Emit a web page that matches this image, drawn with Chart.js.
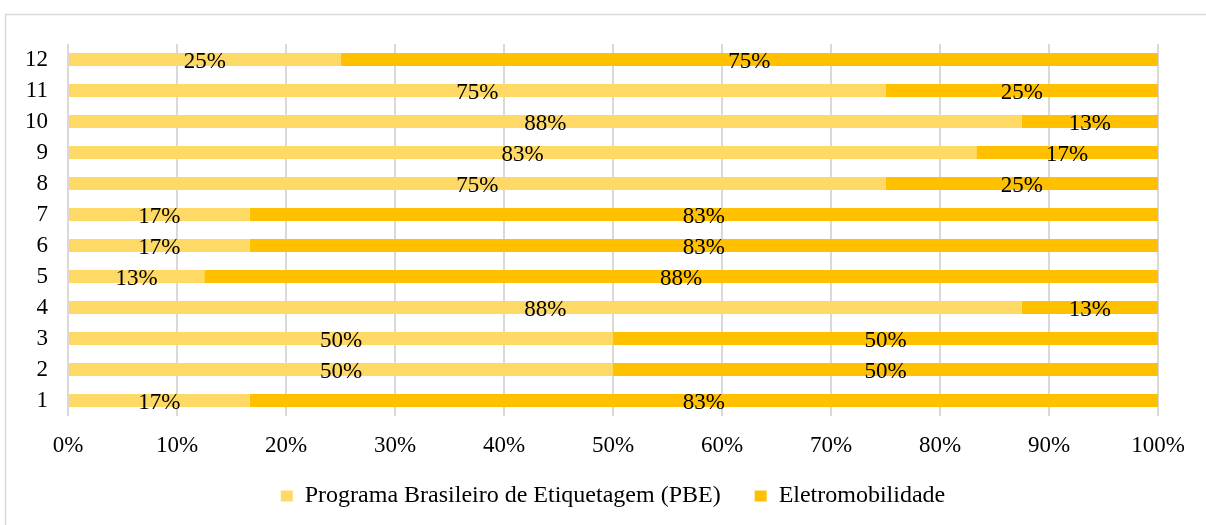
<!DOCTYPE html>
<html>
<head>
<meta charset="utf-8">
<script src="https://cdn.jsdelivr.net/npm/chart.js@4.4.1/dist/chart.umd.min.js"></script>
<style>
  html, body { margin: 0; padding: 0; background: #fff; }
  #box { width: 1206px; height: 525px; }
</style>
</head>
<body>
<div id="box"><canvas id="grafico" width="1206" height="525"></canvas></div>
<script>
// dados (percentagens por item)
const categorias = ['1', '2', '3', '4', '5', '6', '7', '8', '9', '10', '11', '12'];
const valoresPBE = [16.67, 50, 50, 87.5, 12.5, 16.67, 16.67, 75, 83.33, 87.5, 75, 25];
const valoresEletro = [83.33, 50, 50, 12.5, 87.5, 83.33, 83.33, 25, 16.67, 12.5, 25, 75];
const ticksX = [0, 10, 20, 30, 40, 50, 60, 70, 80, 90, 100];

const fonte = 'Liberation Serif, Times New Roman, serif';

// moldura cinza em volta do gráfico
const moldura = {
    id: 'moldura',
    beforeDraw(chart) {
        const ctx = chart.ctx;
        ctx.save();
        ctx.strokeStyle = '#d9d9d9';
        ctx.lineWidth = 1.5;
        ctx.strokeRect(5.5, 14.5, 1300, 600);
        ctx.restore();
    }
};

// sobe um pouco a legenda (o padding dela também dá o espaço entre itens)
const ajusteLegenda = {
    id: 'ajusteLegenda',
    afterLayout(chart) {
        chart.legend.top -= 7;
        chart.legend.bottom -= 7;
    }
};

// rótulos de percentagem no meio de cada segmento
const rotulos = {
    id: 'rotulos',
    afterDatasetsDraw(chart) {
        const ctx = chart.ctx;
        ctx.save();
        ctx.font = '23px ' + fonte;
        ctx.fillStyle = '#000';
        ctx.textAlign = 'center';
        ctx.textBaseline = 'middle';
        chart.data.datasets.forEach((ds, i) => {
            const meta = chart.getDatasetMeta(i);
            meta.data.forEach((bar, j) => {
                const p = bar.getProps(['x', 'y', 'base'], true);
                ctx.fillText(Math.round(ds.data[j]) + '%', (p.x + p.base) / 2, p.y + 2);
            });
        });
        ctx.restore();
    }
};

new Chart(document.getElementById('grafico'), {
    type: 'bar',
    data: {
        labels: categorias,
        datasets: [{
            label: 'Programa Brasileiro de Etiquetagem (PBE)',
            data: valoresPBE,
            backgroundColor: '#ffd966',
            barPercentage: 0.42,
            categoryPercentage: 1
        }, {
            label: 'Eletromobilidade',
            data: valoresEletro,
            backgroundColor: '#ffc000',
            barPercentage: 0.42,
            categoryPercentage: 1
        }]
    },
    options: {
        indexAxis: 'y',
        responsive: false,
        animation: false,
        layout: { padding: { left: 20, top: 44, right: 0, bottom: 0 } },
        plugins: {
            legend: {
                position: 'bottom',
                labels: {
                    color: '#000',
                    font: { family: fonte, size: 24 },
                    boxWidth: 12,
                    boxHeight: 11,
                    padding: 34
                }
            },
            tooltip: { enabled: false }
        },
        scales: {
            x: {
                stacked: true,
                min: 0,
                max: 100,
                afterBuildTicks: s => { s.ticks = ticksX.map(v => ({ value: v })); },
                afterFit: s => { s.height = 41; s.paddingRight = 48; s.paddingLeft = 0; },
                ticks: {
                    color: '#000',
                    font: { family: fonte, size: 23 },
                    padding: 16,
                    maxRotation: 0,
                    callback: v => v + '%'
                },
                grid: { color: '#d9d9d9', lineWidth: 2, drawTicks: false },
                border: { display: false }
            },
            y: {
                stacked: true,
                reverse: true,
                afterFit: s => { s.width = 48; },
                ticks: {
                    color: '#000',
                    font: { family: fonte, size: 23 },
                    padding: 12
                },
                grid: { display: false },
                border: { display: false }
            }
        }
    },
    plugins: [moldura, ajusteLegenda, rotulos]
});
</script>
</body>
</html>
